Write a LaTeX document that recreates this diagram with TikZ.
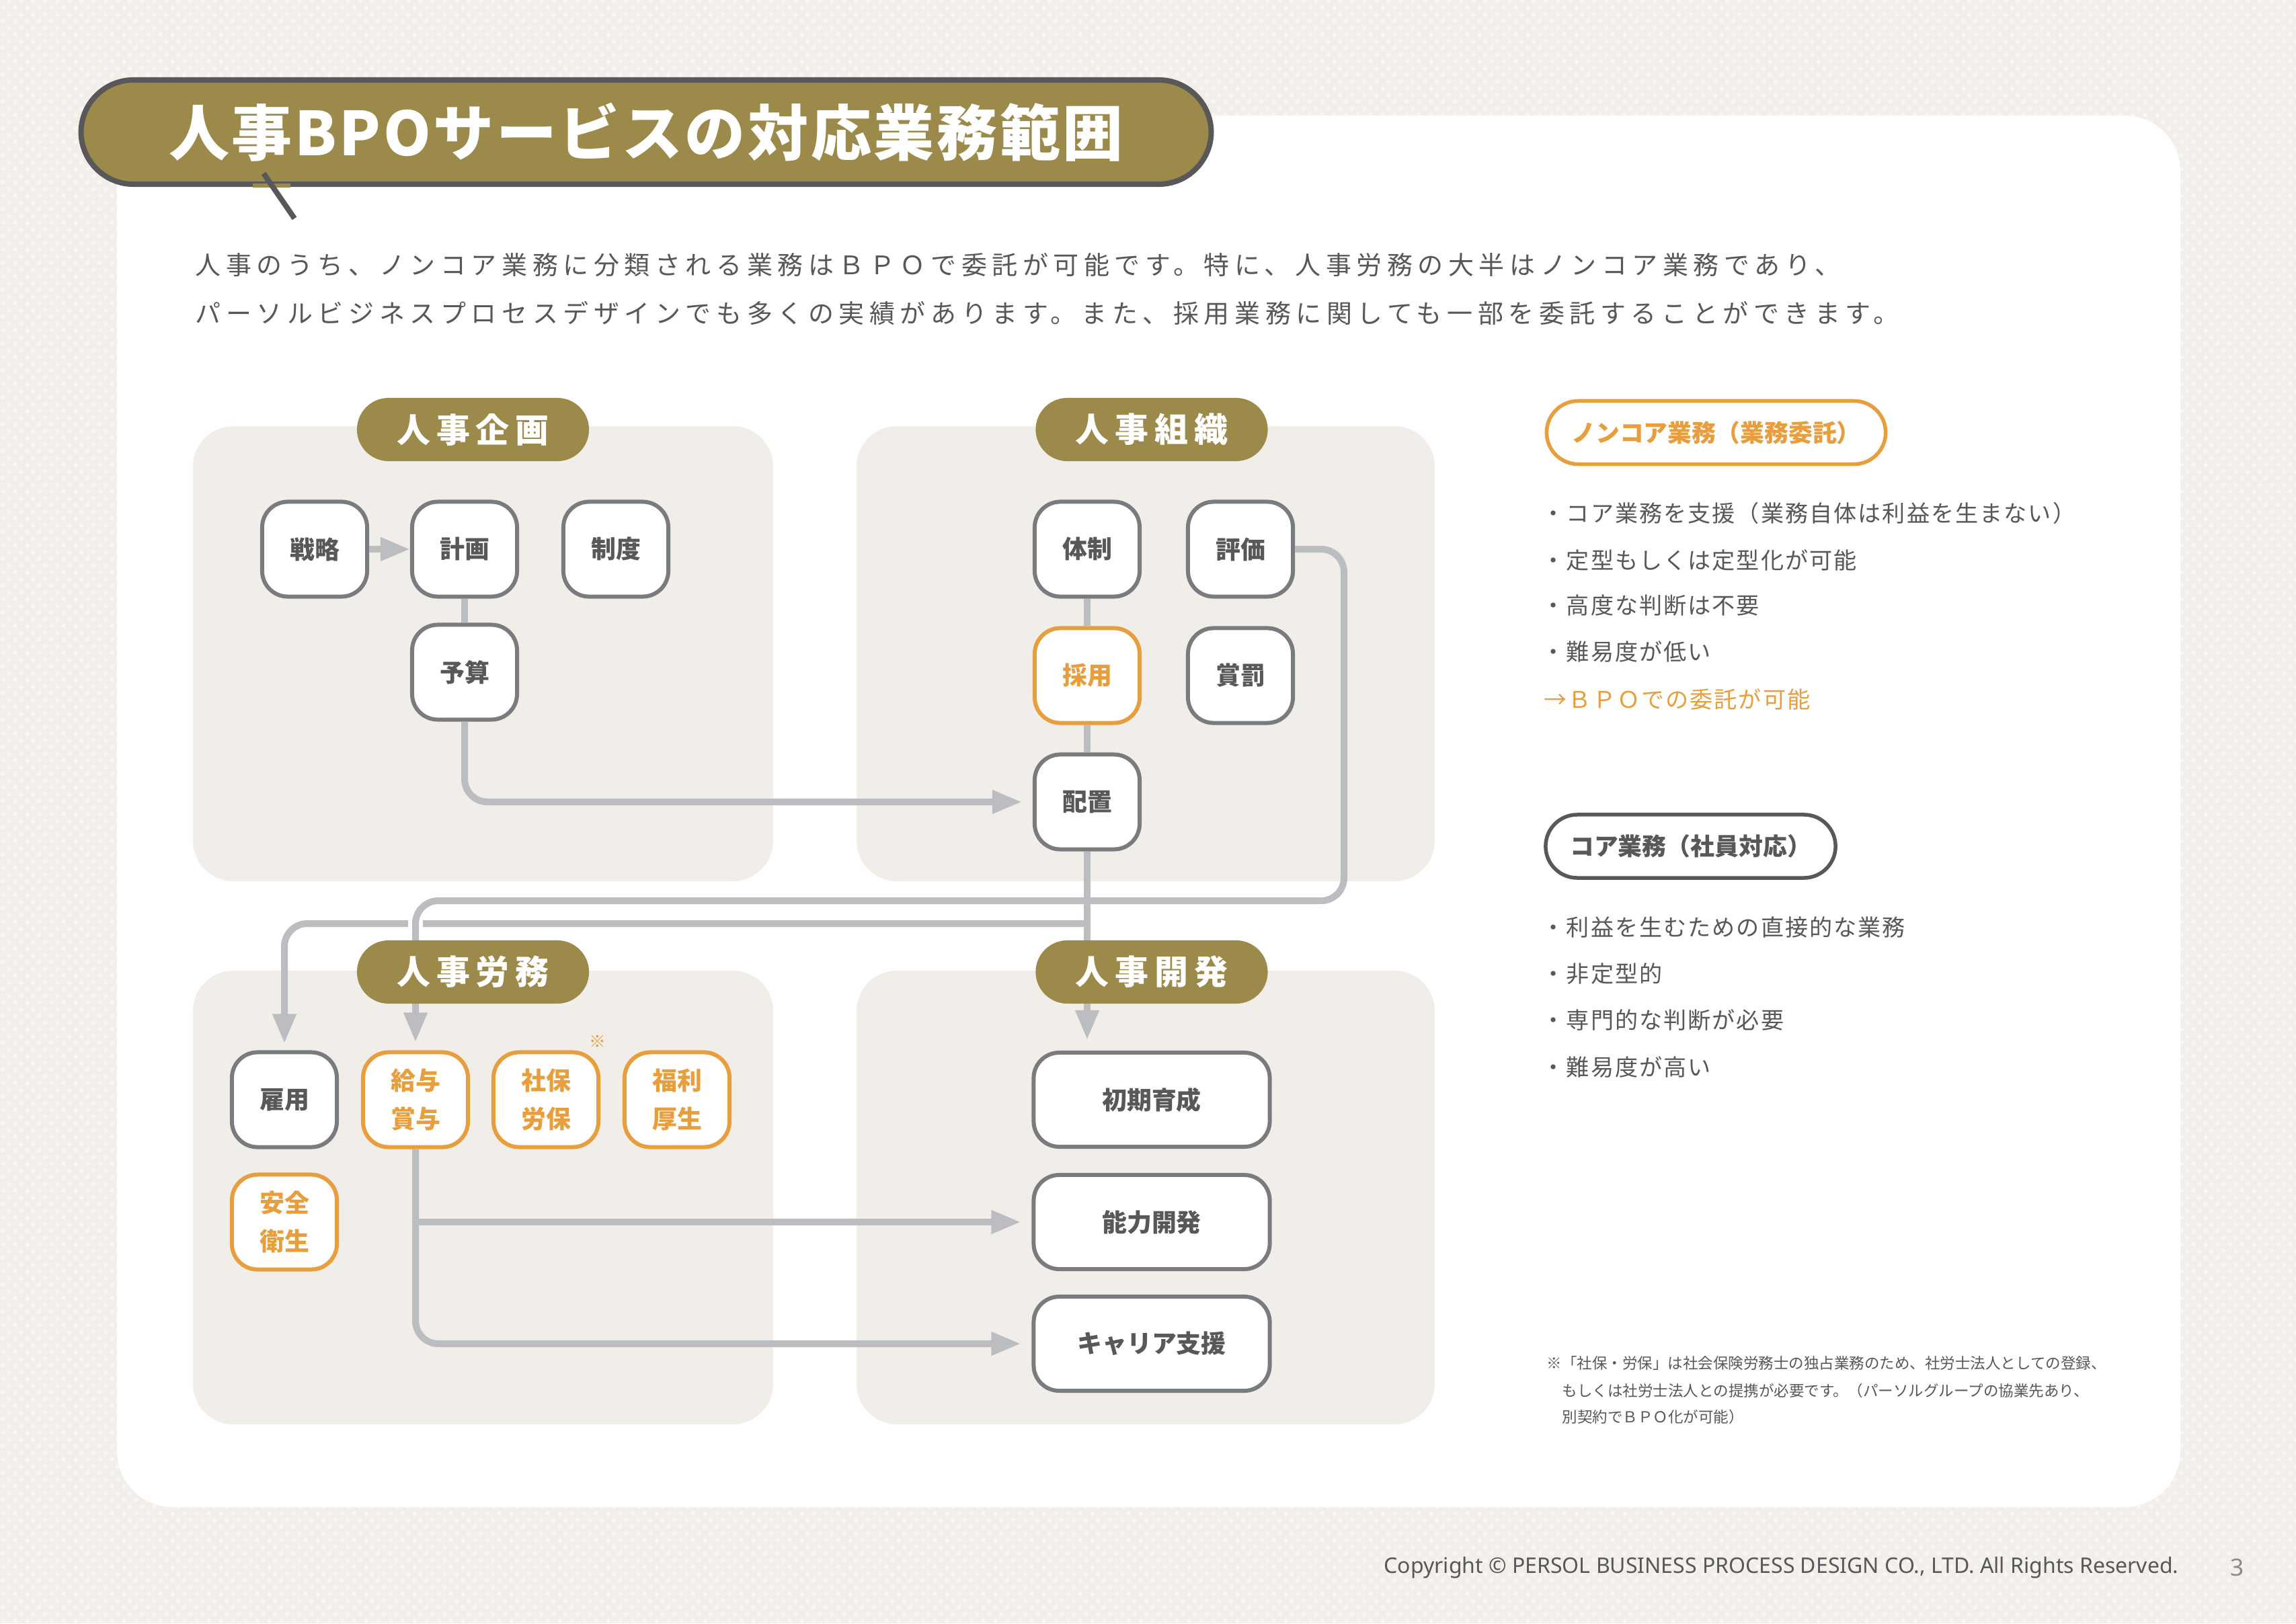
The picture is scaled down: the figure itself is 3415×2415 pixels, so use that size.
\documentclass[tikz,border=0pt]{standalone}
\usepackage{fontspec}
\setmainfont{Noto Sans CJK JP}
\newfontfamily\jpsp{Noto Sans CJK JP}[LetterSpace=20]
\newfontfamily\jphd{Noto Sans CJK JP}[LetterSpace=18]
\newfontfamily\jpbl{Noto Sans CJK JP}[LetterSpace=6]
\newfontfamily\jpti{Noto Sans CJK JP}[LetterSpace=4]
\newfontfamily\latsans{Noto Sans}
\usetikzlibrary{arrows.meta,patterns.meta}
\definecolor{bgc}{HTML}{F2EFEA}
\definecolor{dotc}{HTML}{F8F6F2}
\definecolor{panelc}{HTML}{F1EEE9}
\definecolor{olv}{HTML}{9C8A4B}
\definecolor{dgray}{HTML}{58585A}
\definecolor{boxgray}{HTML}{7A7B7E}
\definecolor{lngray}{HTML}{BCBDC0}
\definecolor{orng}{HTML}{E89E3C}
\definecolor{pgray}{HTML}{8A8A8C}
\tikzdeclarepattern{
  name=bgdots,
  type=uncolored,
  bounding box={(0pt,0pt) and (5.1pt,5.7pt)},
  tile size={(5.1pt,5.7pt)},
  code={\fill (1.275pt,1.425pt) circle (1pt); \fill (3.825pt,4.275pt) circle (1pt);}
}
\tikzset{
  box/.style={draw=boxgray, fill=white, line width=0.06cm, rounded corners=0.38cm,
    minimum width=1.56cm, minimum height=1.41cm, inner sep=0pt, text=dgray,
    font=\bfseries\fontsize{10.5}{16.2}\selectfont, align=center},
  obox/.style={box, draw=orng, text=orng},
  wbox/.style={box, minimum width=3.51cm, minimum height=1.40cm},
  conn/.style={draw=lngray, line width=0.1cm},
  arr/.style={conn, -{Triangle[length=0.44cm,width=0.33cm]}},
  hdr/.style={fill=olv, rounded corners=0.47cm, minimum width=3.45cm, minimum height=0.94cm,
    inner sep=0pt, text=white, font=\jphd\bfseries\fontsize{14.2}{17}\selectfont},
  panel/.style={fill=panelc, rounded corners=0.6cm},
  titlebox/.style={fill=olv, draw=dgray, line width=0.08cm, rounded corners=0.78cm,
    minimum width=16.8cm, minimum height=1.55cm, inner sep=0pt, text=white,
    font=\jpti\bfseries\fontsize{25.6}{30}\selectfont},
  bodytxt/.style={anchor=west, inner sep=0pt, text=dgray, font=\jpsp\fontsize{10.8}{12}\selectfont},
  bullet/.style={anchor=west, inner sep=0pt, text=dgray, font=\jpbl\fontsize{9.7}{12}\selectfont},
  pill/.style={line width=0.055cm, rounded corners=0.47cm, minimum height=0.94cm, inner sep=0pt,
    font=\bfseries\fontsize{10.2}{12}\selectfont},
  note/.style={anchor=west, inner sep=0pt, text=dgray, font=\fontsize{6.4}{8}\selectfont},
}
\begin{document}
\begin{tikzpicture}[x=0.01cm,y=-0.01cm]
\useasboundingbox (0,0) rectangle (3415,2415);
% background
\fill[bgc] (0,0) rectangle (3415,2415);
\fill[pattern=bgdots, pattern color=dotc] (0,0) rectangle (3415,2415);
\fill[white, rounded corners=0.83cm] (174,172) rectangle (3243,2242);

% title
\node[titlebox] (title) at (961,196.5) {人事BPOサービスの対応業務範囲};
\fill[white] (376,278) rectangle (432,284);
\fill[olv] (376,273) rectangle (432,278.5);
\coordinate (tailA) at (392,258);
\coordinate (tailB) at (438,325);
\draw[dgray, line width=0.08cm] (tailA) -- (tailB);

% intro text
\node[bodytxt] (intro1) at (290,394) {人事のうち、ノンコア業務に分類される業務はＢＰＯで委託が可能です。特に、人事労務の大半はノンコア業務であり、};
\node[bodytxt] (intro2) at (290,466) {パーソルビジネスプロセスデザインでも多くの実績があります。また、採用業務に関しても一部を委託することができます。};

% panels
\fill[panel] (287,634) rectangle (1150,1311);
\fill[panel] (1274,634) rectangle (2134,1311);
\fill[panel] (287,1444) rectangle (1150,2119);
\fill[panel] (1274,1444) rectangle (2134,2119);

% panel 1 nodes
\node[box] (senryaku) at (468,817) {戦略};
\node[box] (keikaku) at (691,817) {計画};
\node[box] (seido) at (916,817) {制度};
\node[box] (yosan) at (691,1000) {予算};
% panel 2 nodes
\node[box] (taisei) at (1617,817) {体制};
\node[box] (hyouka) at (1845,817) {評価};
\node[obox] (saiyou) at (1617,1005) {採用};
\node[box] (shoubatsu) at (1845,1005) {賞罰};
\node[box] (haichi) at (1617,1193) {配置};
% panel 3 nodes
\node[box] (koyou) at (423,1636) {雇用};
\node[obox] (kyuyo) at (618,1636) {給与\\賞与};
\node[obox] (shaho) at (812,1636) {社保\\労保};
\node[obox] (fukuri) at (1007,1636) {福利\\厚生};
\node[obox] (anzen) at (423,1818) {安全\\衛生};
\node[text=orng, inner sep=0pt, font=\fontsize{7}{8}\selectfont] (kome) at (889,1549) {※};
% panel 4 nodes
\node[wbox] (shoki) at (1713,1636) {初期育成};
\node[wbox] (nouryoku) at (1713,1818) {能力開発};
\node[wbox] (career) at (1713,1999) {キャリア支援};

% connectors
\coordinate (j1) at (1617,1374);
\coordinate (r1) at (1999,1340);
\draw[arr] (senryaku) -- (keikaku);
\draw[conn] (keikaku) -- (yosan);
\draw[arr, rounded corners=0.34cm, shorten >=0.16cm] (yosan.south) |- (haichi.west);
\draw[conn] (taisei) -- (saiyou);
\draw[conn] (saiyou) -- (haichi);
\draw[arr, shorten >=0.16cm] (haichi.south) -- (haichi.south |- shoki.north);
\draw[arr, rounded corners=0.34cm, shorten >=0.1cm] (j1) -| (koyou.north);
\coordinate (x1) at (kyuyo.north |- j1);
\draw[white, line width=0.22cm] ([yshift=0.15cm]x1) -- ([yshift=-0.15cm]x1);
\draw[arr, rounded corners=0.34cm, shorten >=0.12cm] (hyouka.east) -| (r1) -| (kyuyo.north);
\draw[arr, shorten >=0.16cm] (kyuyo.south |- nouryoku.west) -- (nouryoku.west);
\draw[arr, rounded corners=0.34cm, shorten >=0.16cm] (kyuyo.south) |- (career.west);

% headers
\node[hdr] (h1) at (703.5,639) {人事企画};
\node[hdr] (h2) at (1713,639) {人事組織};
\node[hdr] (h3) at (703.5,1446) {人事労務};
\node[hdr] (h4) at (1713,1446) {人事開発};

% right column
\node[pill, draw=orng, text=orng, fill=white, minimum width=5.04cm] (noncore) at (2552.5,643.5) {ノンコア業務（業務委託）};
\node[bullet] (b1) at (2293,764) {・コア業務を支援（業務自体は利益を生まない）};
\node[bullet] (b2) at (2293,834) {・定型もしくは定型化が可能};
\node[bullet] (b3) at (2293,901) {・高度な判断は不要};
\node[bullet] (b4) at (2293,970) {・難易度が低い};
\node[bullet, text=orng] (b5) at (2296,1040) {→ＢＰＯでの委託が可能};
\node[pill, draw=dgray, text=dgray, fill=white, minimum width=4.31cm] (core) at (2514.5,1259) {コア業務（社員対応）};
\node[bullet] (c1) at (2293,1379) {・利益を生むための直接的な業務};
\node[bullet] (c2) at (2293,1449) {・非定型的};
\node[bullet] (c3) at (2293,1518) {・専門的な判断が必要};
\node[bullet] (c4) at (2293,1588) {・難易度が高い};

% footnote
\node[note] (n1) at (2300,2028) {※「社保・労保」は社会保険労務士の独占業務のため、社労士法人としての登録、};
\node[note] (n2) at (2323,2069) {もしくは社労士法人との提携が必要です。（パーソルグループの協業先あり、};
\node[note] (n3) at (2323,2108) {別契約でＢＰＯ化が可能）};

% footer
\node[anchor=east, inner sep=0pt, text=dgray, font=\latsans\fontsize{9.1}{11}\selectfont] (copy) at (3241,2332) {Copyright © PERSOL BUSINESS PROCESS DESIGN CO., LTD. All Rights Reserved.};
\node[inner sep=0pt, text=pgray, font=\latsans\fontsize{10}{12}\selectfont] (pageno) at (3328,2332) {3};
\end{tikzpicture}
\end{document}
